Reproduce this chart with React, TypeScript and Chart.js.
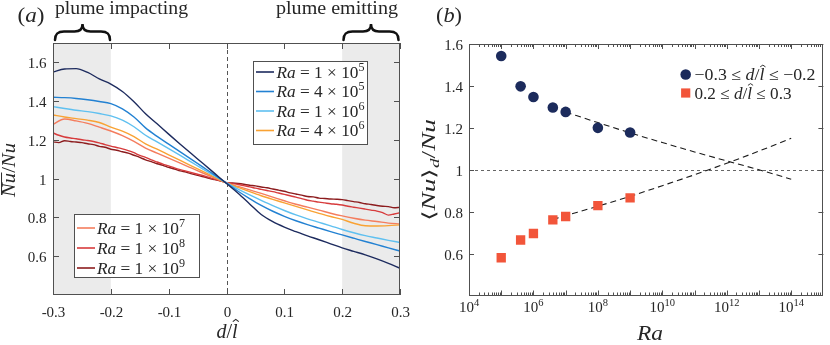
import React, { useEffect, useRef } from 'react';
import { Chart, registerables } from 'chart.js';

Chart.register(...registerables);

const FONT = '"Liberation Serif", "Times New Roman", serif';
const INK = '#262626';
const AXIS = '#505050';

// ---------- Panel (a) data ----------
const D_HAT = [-0.3, -0.28, -0.26, -0.24, -0.22, -0.2, -0.18, -0.16, -0.14, -0.12, -0.1, -0.08, -0.06, -0.04, -0.02, 0, 0.02, 0.04, 0.06, 0.08, 0.1, 0.12, 0.14, 0.16, 0.18, 0.2, 0.22, 0.24, 0.26, 0.28, 0.3];
const D_FINE = [-0.3, -0.29, -0.28, -0.27, -0.26, -0.25, -0.24, -0.23, -0.22, -0.21, -0.2, -0.19, -0.18, -0.17, -0.16, -0.15, -0.14, -0.13, -0.12, -0.11, -0.1, -0.09, -0.08, -0.07, -0.06, -0.05, -0.04, -0.03, -0.02, -0.01, 0, 0.01, 0.02, 0.03, 0.04, 0.05, 0.06, 0.07, 0.08, 0.09, 0.1, 0.11, 0.12, 0.13, 0.14, 0.15, 0.16, 0.17, 0.18, 0.19, 0.2, 0.21, 0.22, 0.23, 0.24, 0.25, 0.26, 0.27, 0.28, 0.29, 0.3];

const NU_RA_1E5 = [1.550, 1.566, 1.568, 1.548, 1.515, 1.488, 1.450, 1.397, 1.335, 1.283, 1.230, 1.178, 1.127, 1.077, 1.026, 0.975, 0.925, 0.870, 0.815, 0.778, 0.750, 0.727, 0.705, 0.685, 0.664, 0.643, 0.625, 0.607, 0.586, 0.563, 0.538];
const NU_RA_4E5 = [1.420, 1.418, 1.414, 1.407, 1.398, 1.387, 1.360, 1.318, 1.262, 1.218, 1.178, 1.138, 1.098, 1.058, 1.018, 0.977, 0.935, 0.897, 0.862, 0.832, 0.806, 0.783, 0.763, 0.745, 0.727, 0.710, 0.693, 0.676, 0.660, 0.643, 0.627];
const NU_RA_1E6 = [1.372, 1.362, 1.353, 1.346, 1.336, 1.324, 1.302, 1.268, 1.224, 1.190, 1.155, 1.120, 1.084, 1.048, 1.013, 0.978, 0.946, 0.916, 0.888, 0.861, 0.836, 0.813, 0.793, 0.775, 0.757, 0.738, 0.721, 0.706, 0.694, 0.682, 0.671];
const NU_RA_4E6 = [1.329, 1.318, 1.310, 1.302, 1.290, 1.266, 1.245, 1.217, 1.180, 1.152, 1.123, 1.094, 1.065, 1.036, 1.007, 0.978, 0.955, 0.933, 0.912, 0.893, 0.875, 0.857, 0.839, 0.821, 0.805, 0.790, 0.770, 0.757, 0.756, 0.758, 0.762];
const NU_RA_1E7 = [1.280, 1.308, 1.298, 1.285, 1.266, 1.246, 1.222, 1.192, 1.158, 1.132, 1.106, 1.080, 1.054, 1.028, 1.003, 0.978, 0.960, 0.942, 0.924, 0.905, 0.886, 0.868, 0.853, 0.838, 0.822, 0.808, 0.796, 0.786, 0.779, 0.771, 0.767];
const NU_RA_1E8 = [1.236, 1.224, 1.215, 1.210, 1.206, 1.201, 1.197, 1.192, 1.185, 1.176, 1.168, 1.161, 1.154, 1.145, 1.134, 1.120, 1.110, 1.097, 1.086, 1.075, 1.066, 1.056, 1.047, 1.039, 1.031, 1.023, 1.015, 1.006, 0.997, 0.989, 0.980, 0.975, 0.970, 0.964, 0.958, 0.951, 0.945, 0.939, 0.933, 0.926, 0.919, 0.912, 0.905, 0.897, 0.889, 0.884, 0.879, 0.875, 0.871, 0.868, 0.864, 0.858, 0.853, 0.848, 0.843, 0.838, 0.833, 0.825, 0.812, 0.818, 0.824];
const NU_RA_1E9 = [1.190, 1.186, 1.196, 1.192, 1.189, 1.186, 1.180, 1.176, 1.167, 1.162, 1.152, 1.147, 1.139, 1.132, 1.121, 1.110, 1.097, 1.088, 1.077, 1.069, 1.058, 1.050, 1.040, 1.034, 1.025, 1.017, 1.010, 1.002, 0.995, 0.988, 0.980, 0.978, 0.975, 0.971, 0.966, 0.963, 0.957, 0.953, 0.947, 0.941, 0.935, 0.927, 0.921, 0.915, 0.908, 0.906, 0.900, 0.898, 0.895, 0.894, 0.892, 0.887, 0.882, 0.877, 0.871, 0.867, 0.862, 0.858, 0.856, 0.850, 0.852];

const SERIES_A = [
  { mant: '1', exp: '5', color: '#1d2b5e', x: D_HAT, y: NU_RA_1E5 },
  { mant: '4', exp: '5', color: '#2281d2', x: D_HAT, y: NU_RA_4E5 },
  { mant: '1', exp: '6', color: '#5fc0f0', x: D_HAT, y: NU_RA_1E6 },
  { mant: '4', exp: '6', color: '#f9a233', x: D_HAT, y: NU_RA_4E6 },
  { mant: '1', exp: '7', color: '#f47d5e', x: D_HAT, y: NU_RA_1E7 },
  { mant: '1', exp: '8', color: '#d73b3c', x: D_FINE, y: NU_RA_1E8 },
  { mant: '1', exp: '9', color: '#8c1c1e', x: D_FINE, y: NU_RA_1E9 },
];

const SHADE_A = [[-0.3, -0.2], [0.2, 0.3]];
const X_TICKS_A = [-0.3, -0.2, -0.1, 0, 0.1, 0.2, 0.3];
const X_LABELS_A = ['-0.3', '-0.2', '-0.1', '0', '0.1', '0.2', '0.3'];
const Y_TICKS_A = [0.6, 0.8, 1, 1.2, 1.4, 1.6];
const Y_LABELS_A = ['0.6', '0.8', '1', '1.2', '1.4', '1.6'];

// ---------- Panel (b) data ----------
const RA_B = [1e5, 4e5, 1e6, 4e6, 1e7, 1e8, 1e9];
const NU_IMPACT = [1.543, 1.398, 1.347, 1.297, 1.276, 1.200, 1.178];
const NU_EMIT = [0.580, 0.665, 0.696, 0.761, 0.777, 0.829, 0.866];
const FIT_UP_RA = [1e7, 1e8, 1e9, 1e10, 1e11, 1e12, 1e13, 1e14];
const FIT_UP = [1.275, 1.225, 1.176, 1.130, 1.085, 1.042, 1.000, 0.955];
const FIT_LO_RA = [4e6, 1e7, 1e8, 1e9, 1e10, 1e11, 1e12, 1e13, 1e14];
const FIT_LO = [0.763, 0.781, 0.826, 0.873, 0.924, 0.976, 1.031, 1.089, 1.150];
const X_TICK_EXP_B = [4, 6, 8, 10, 12, 14];
const Y_TICKS_B = [0.6, 0.8, 1, 1.2, 1.4, 1.6];
const Y_LABELS_B = ['0.6', '0.8', '1', '1.2', '1.4', '1.6'];

// ---------- text helpers ----------
type Seg = { t: string; it?: boolean; sup?: boolean; sub?: boolean; hat?: boolean; over?: boolean };

function fontFor(s: Seg, size: number) {
  const sz = s.sup || s.sub ? size * 0.7 : size;
  return `${s.it ? 'italic ' : ''}${sz}px ${FONT}`;
}
function richWidth(ctx: CanvasRenderingContext2D, segs: Seg[], size: number) {
  let w = 0;
  for (const s of segs) {
    ctx.font = fontFor(s, size);
    w += ctx.measureText(s.t).width;
  }
  return w;
}
function drawRich(
  ctx: CanvasRenderingContext2D, segs: Seg[], x: number, y: number, size: number,
  align: 'left' | 'center' | 'right' = 'left', color = INK, fitW?: number,
) {
  ctx.save();
  const w = richWidth(ctx, segs, size);
  const sx = fitW ? fitW / w : 1;
  const tw = w * sx;
  const start = align === 'left' ? x : align === 'center' ? x - tw / 2 : x - tw;
  ctx.translate(start, y);
  ctx.scale(sx, 1);
  ctx.fillStyle = color;
  ctx.strokeStyle = color;
  ctx.textAlign = 'left';
  ctx.textBaseline = 'alphabetic';
  let cx = 0;
  for (const s of segs) {
    ctx.font = fontFor(s, size);
    const dy = s.sup ? -0.39 * size : s.sub ? 0.22 * size : 0;
    ctx.fillText(s.t, cx, dy);
    const sw = ctx.measureText(s.t).width;
    if (s.hat) {
      const hx = cx + sw * 0.68;
      const hy = dy - size * 0.93;
      ctx.lineWidth = Math.max(0.8, size * 0.055);
      ctx.beginPath();
      ctx.moveTo(hx - size * 0.15, hy + size * 0.11);
      ctx.lineTo(hx, hy);
      ctx.lineTo(hx + size * 0.15, hy + size * 0.11);
      ctx.stroke();
    }
    if (s.over) {
      const oy = dy - size * 0.72;
      ctx.lineWidth = Math.max(0.9, size * 0.055);
      ctx.beginPath();
      ctx.moveTo(cx + size * 0.1, oy);
      ctx.lineTo(cx + sw + size * 0.02, oy);
      ctx.stroke();
    }
    cx += sw;
  }
  ctx.restore();
}
function drawPlain(ctx: CanvasRenderingContext2D, t: string, x: number, y: number, size: number, align: CanvasTextAlign, italic = false) {
  ctx.save();
  ctx.font = `${italic ? 'italic ' : ''}${size}px ${FONT}`;
  ctx.fillStyle = INK;
  ctx.textAlign = align;
  ctx.textBaseline = 'alphabetic';
  ctx.fillText(t, x, y);
  ctx.restore();
}
function drawBox(ctx: CanvasRenderingContext2D, ca: any) {
  ctx.save();
  ctx.strokeStyle = AXIS;
  ctx.lineWidth = 1;
  ctx.setLineDash([]);
  const l = Math.round(ca.left) + 0.5, t = Math.round(ca.top) + 0.5;
  const r = Math.round(ca.right) - 0.5, b = Math.round(ca.bottom) - 0.5;
  ctx.strokeRect(l, t, r - l, b - t);
  ctx.restore();
}
function brace(ctx: CanvasRenderingContext2D, x0: number, x1: number, yEnd: number, yMid: number, yTip: number) {
  const xc = (x0 + x1) / 2;
  ctx.save();
  ctx.strokeStyle = '#111';
  ctx.lineWidth = 2.5;
  ctx.lineCap = 'round';
  ctx.beginPath();
  ctx.moveTo(x0, yEnd);
  ctx.bezierCurveTo(x0, yMid + 2, x0 + 3, yMid, x0 + 9, yMid);
  ctx.lineTo(xc - 8, yMid);
  ctx.bezierCurveTo(xc - 3, yMid, xc, yMid - 2, xc, yTip);
  ctx.bezierCurveTo(xc, yMid - 2, xc + 3, yMid, xc + 8, yMid);
  ctx.lineTo(x1 - 9, yMid);
  ctx.bezierCurveTo(x1 - 3, yMid, x1, yMid + 2, x1, yEnd);
  ctx.stroke();
  ctx.restore();
}

// ---------- plugins ----------
const panelA = {
  id: 'panelA',
  beforeDatasetsDraw(chart: any) {
    const { ctx, chartArea: ca, scales } = chart;
    const x = scales.x;
    ctx.save();
    ctx.fillStyle = '#ebebeb';
    for (const [a, b] of SHADE_A) {
      const x0 = x.getPixelForValue(a), x1 = x.getPixelForValue(b);
      ctx.fillRect(x0, ca.top, x1 - x0, ca.bottom - ca.top);
    }
    ctx.strokeStyle = '#555';
    ctx.lineWidth = 1;
    ctx.setLineDash([4, 3]);
    const xz = Math.round(x.getPixelForValue(0)) + 0.5;
    ctx.beginPath();
    ctx.moveTo(xz, ca.top);
    ctx.lineTo(xz, ca.bottom);
    ctx.stroke();
    ctx.restore();
  },
  afterDatasetsDraw(chart: any) {
    const { ctx, chartArea: ca, scales } = chart;
    const x = scales.x, y = scales.y;
    drawBox(ctx, ca);
    ctx.save();
    ctx.strokeStyle = AXIS;
    ctx.lineWidth = 1;
    const L = 6;
    X_TICKS_A.forEach((v, i) => {
      const px = Math.round(x.getPixelForValue(v)) + 0.5;
      ctx.beginPath();
      ctx.moveTo(px, ca.bottom); ctx.lineTo(px, ca.bottom - L);
      ctx.moveTo(px, ca.top); ctx.lineTo(px, ca.top + L);
      ctx.stroke();
      drawPlain(ctx, X_LABELS_A[i], px, 316.5, 15, 'center');
    });
    Y_TICKS_A.forEach((v, i) => {
      const py = Math.round(y.getPixelForValue(v)) + 0.5;
      ctx.beginPath();
      ctx.moveTo(ca.left, py); ctx.lineTo(ca.left + L, py);
      ctx.moveTo(ca.right, py); ctx.lineTo(ca.right - L, py);
      ctx.stroke();
      drawPlain(ctx, Y_LABELS_A[i], 46.5, py + 5, 15, 'right');
    });
    ctx.restore();

    // legends
    const legendBox = (bx: number, by: number, bw: number, bh: number, items: any[], rows: number[], lx0: number, lx1: number, tx: number) => {
      ctx.save();
      ctx.fillStyle = '#fff';
      ctx.fillRect(bx, by, bw, bh);
      ctx.strokeStyle = AXIS;
      ctx.lineWidth = 1;
      ctx.strokeRect(bx + 0.5, by + 0.5, bw, bh);
      items.forEach((s, i) => {
        const ry = rows[i];
        ctx.strokeStyle = s.color;
        ctx.lineWidth = 1.6;
        ctx.beginPath();
        ctx.moveTo(lx0, ry); ctx.lineTo(lx1, ry);
        ctx.stroke();
        drawRich(ctx, [{ t: 'Ra', it: true }, { t: ` = ${s.mant} × 10` }, { t: s.exp, sup: true }], tx, ry + 5.5, 17, 'left', INK, 88);
      });
      ctx.restore();
    };
    legendBox(253, 61, 114, 83, SERIES_A.slice(0, 4), [72, 91.5, 111, 130.5], 256, 274, 276.5);
    legendBox(74, 214, 125, 63, SERIES_A.slice(4), [228, 248, 268], 77, 95, 97);

    // titles
    drawRich(ctx, [{ t: 'd', it: true }, { t: '/' }, { t: 'l', it: true, hat: true }], 227, 338, 20, 'center');
    ctx.save();
    ctx.translate(14.5, 170);
    ctx.rotate(-Math.PI / 2);
    drawRich(ctx, [{ t: 'Nu', it: true, over: true }, { t: '/' }, { t: 'Nu', it: true }], 0, 0, 18, 'center', INK, 54);
    ctx.restore();
    drawRich(ctx, [{ t: '(' }, { t: 'a', it: true }, { t: ')' }], 31, 22, 21, 'center', INK, 27);
    drawRich(ctx, [{ t: 'plume impacting' }], 55, 13.5, 19, 'left', INK, 133);
    drawRich(ctx, [{ t: 'plume emitting' }], 398, 13.5, 19, 'right', INK, 122);
    brace(ctx, 55, 110, 40, 31.5, 24);
    brace(ctx, 343.5, 398.5, 40, 31.5, 24);
  },
};

const panelB = {
  id: 'panelB',
  beforeDatasetsDraw(chart: any) {
    const { ctx, chartArea: ca, scales } = chart;
    const y = scales.y;
    ctx.save();
    ctx.strokeStyle = '#666';
    ctx.lineWidth = 1;
    ctx.setLineDash([3, 3]);
    const py = Math.round(y.getPixelForValue(1)) + 0.5;
    ctx.beginPath();
    ctx.moveTo(ca.left, py);
    ctx.lineTo(ca.right, py);
    ctx.stroke();
    ctx.restore();
  },
  afterDatasetsDraw(chart: any) {
    const { ctx, chartArea: ca, scales } = chart;
    const x = scales.x, y = scales.y;
    drawBox(ctx, ca);
    ctx.save();
    ctx.strokeStyle = AXIS;
    ctx.lineWidth = 1;
    for (let e = 4; e <= 14; e++) {
      for (let k = 1; k <= 9; k++) {
        const v = k * Math.pow(10, e);
        const px = Math.round(x.getPixelForValue(v)) + 0.5;
        if (px > ca.right - 1) continue;
        const L = k === 1 ? 5 : 3;
        ctx.beginPath();
        ctx.moveTo(px, ca.bottom); ctx.lineTo(px, ca.bottom - L);
        ctx.moveTo(px, ca.top); ctx.lineTo(px, ca.top + L);
        ctx.stroke();
      }
    }
    X_TICK_EXP_B.forEach((e) => {
      const px = x.getPixelForValue(Math.pow(10, e));
      drawRich(ctx, [{ t: '10' }, { t: String(e), sup: true }], px, 311.5, 15, 'center');
    });
    Y_TICKS_B.forEach((v, i) => {
      const py = Math.round(y.getPixelForValue(v)) + 0.5;
      ctx.beginPath();
      ctx.moveTo(ca.left, py); ctx.lineTo(ca.left + 5, py);
      ctx.moveTo(ca.right, py); ctx.lineTo(ca.right - 5, py);
      ctx.stroke();
      drawPlain(ctx, Y_LABELS_B[i], 463 - 415, py + 5, 15, 'right');
    });
    ctx.restore();

    // legend
    ctx.save();
    ctx.fillStyle = '#1c2b5c';
    ctx.beginPath();
    ctx.arc(685.7 - 415, 74.5, 5.3, 0, Math.PI * 2);
    ctx.fill();
    ctx.fillStyle = '#f2553a';
    ctx.fillRect(685.7 - 415 - 4.6, 93 - 4.6, 9.2, 9.2);
    ctx.restore();
    drawRich(ctx, [{ t: '−0.3 ≤ ' }, { t: 'd', it: true }, { t: '/' }, { t: 'l', it: true, hat: true }, { t: ' ≤ −0.2' }], 694.5 - 415, 80, 16, 'left', INK, 121);
    drawRich(ctx, [{ t: '0.2 ≤ ' }, { t: 'd', it: true }, { t: '/' }, { t: 'l', it: true, hat: true }, { t: ' ≤ 0.3' }], 694.5 - 415, 98.5, 16, 'left', INK, 97);

    // titles
    drawRich(ctx, [{ t: 'Ra', it: true }], 650 - 415, 340, 20, 'center', INK, 26);
    ctx.save();
    ctx.translate(435 - 415, 170);
    ctx.rotate(-Math.PI / 2);
    drawRich(ctx, [{ t: '⟨' }, { t: 'Nu', it: true }, { t: '⟩' }, { t: 'd', it: true, sub: true }, { t: '/' }, { t: 'Nu', it: true }], 0, 0, 18, 'center', INK, 102);
    ctx.restore();
    drawRich(ctx, [{ t: '(' }, { t: 'b', it: true }, { t: ')' }], 449 - 415, 22, 21, 'center', INK, 26);
  },
};

export default function App() {
  const refA = useRef<HTMLCanvasElement>(null);
  const refB = useRef<HTMLCanvasElement>(null);

  useEffect(() => {
    const chartA = new Chart(refA.current as HTMLCanvasElement, {
      type: 'line',
      data: {
        datasets: SERIES_A.map((s) => ({
          data: s.x.map((d, i) => ({ x: d, y: s.y[i] })),
          borderColor: s.color,
          borderWidth: 1.4,
          pointRadius: 0,
          tension: s.x === D_FINE ? 0 : 0.35,
          cubicInterpolationMode: 'monotone' as const,
          fill: false,
        })),
      },
      options: {
        responsive: false,
        animation: false,
        devicePixelRatio: 1,
        events: [],
        layout: { padding: { left: 53, right: 15, top: 43, bottom: 50 } },
        scales: {
          x: { type: 'linear', min: -0.3, max: 0.3, display: false },
          y: { type: 'linear', min: 0.4, max: 1.7, display: false },
        },
        plugins: { legend: { display: false }, tooltip: { enabled: false } },
      },
      plugins: [panelA],
    } as any);

    const chartB = new Chart(refB.current as HTMLCanvasElement, {
      type: 'line',
      data: {
        datasets: [
          {
            data: RA_B.map((r, i) => ({ x: r, y: NU_IMPACT[i] })),
            showLine: false,
            pointStyle: 'circle',
            pointRadius: 5.3,
            pointBackgroundColor: '#1c2b5c',
            pointBorderWidth: 0,
            order: 0,
          },
          {
            data: RA_B.map((r, i) => ({ x: r, y: NU_EMIT[i] })),
            showLine: false,
            pointStyle: 'rect',
            pointRadius: 6.6,
            pointBackgroundColor: '#f2553a',
            pointBorderWidth: 0,
            order: 0,
          },
          {
            data: FIT_UP_RA.map((r, i) => ({ x: r, y: FIT_UP[i] })),
            borderColor: '#1a1a1a',
            borderWidth: 1.1,
            borderDash: [6, 4],
            pointRadius: 0,
            tension: 0.4,
            cubicInterpolationMode: 'monotone' as const,
            fill: false,
            order: 1,
          },
          {
            data: FIT_LO_RA.map((r, i) => ({ x: r, y: FIT_LO[i] })),
            borderColor: '#1a1a1a',
            borderWidth: 1.1,
            borderDash: [6, 4],
            pointRadius: 0,
            tension: 0.4,
            cubicInterpolationMode: 'monotone' as const,
            fill: false,
            order: 1,
          },
        ],
      },
      options: {
        responsive: false,
        animation: false,
        devicePixelRatio: 1,
        events: [],
        layout: { padding: { left: 54, right: 1, top: 44, bottom: 49.5 } },
        scales: {
          x: { type: 'logarithmic', min: 1e4, max: 1e15, display: false },
          y: { type: 'linear', min: 0.4, max: 1.6, display: false },
        },
        plugins: { legend: { display: false }, tooltip: { enabled: false } },
      },
      plugins: [panelB],
    } as any);

    return () => {
      chartA.destroy();
      chartB.destroy();
    };
  }, []);

  return (
    <div style={{ position: 'absolute', left: 0, top: 0, width: 830, height: 345, background: '#fff' }}>
      <canvas ref={refA} width={415} height={345} style={{ position: 'absolute', left: 0, top: 0, width: 415, height: 345 }} />
      <canvas ref={refB} width={415} height={345} style={{ position: 'absolute', left: 415, top: 0, width: 415, height: 345 }} />
    </div>
  );
}
